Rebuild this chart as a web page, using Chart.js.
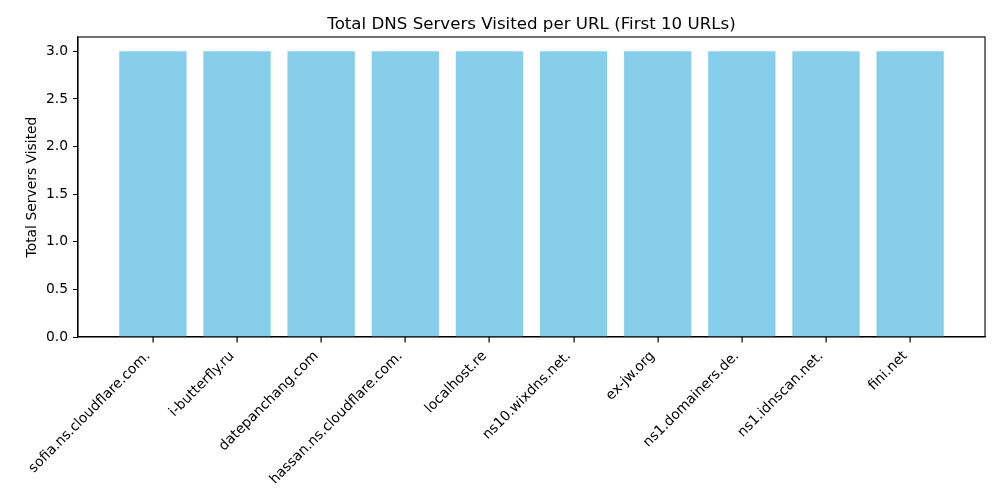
<!DOCTYPE html>
<html>
<head>
<meta charset="utf-8">
<script src="https://cdn.jsdelivr.net/npm/chart.js@4.4.0/dist/chart.umd.min.js"></script>
<style>
html,body{margin:0;padding:0;background:#fff;}
#wrap{width:1000px;height:500px;}
</style>
</head>
<body>
<div id="wrap"><canvas id="c" width="1000" height="500"></canvas></div>
<script>
const urls = ["sofia.ns.cloudflare.com.", "i-butterfly.ru", "datepanchang.com", "hassan.ns.cloudflare.com.", "localhost.re", "ns10.wixdns.net.", "ex-jw.org", "ns1.domainers.de.", "ns1.idnscan.net.", "fini.net"];
const totalServers = [3, 3, 3, 3, 3, 3, 3, 3, 3, 3];
const yTicks = [0, 0.5, 1.0, 1.5, 2.0, 2.5, 3.0];
const chartTitle = 'Total DNS Servers Visited per URL (First 10 URLs)';

const FONT = "'DejaVu Sans', sans-serif";
const TICK_FONT = 13.89;

const decor = {
  id: 'decor',
  afterDraw(chart) {
    const {ctx, chartArea: a} = chart;
    const xs = chart.scales.x;
    ctx.save();
    // frame (spines)
    ctx.strokeStyle = '#000';
    ctx.lineWidth = 1.1;
    ctx.strokeRect(a.left, a.top, a.right - a.left, a.bottom - a.top);
    // title centred over the axes
    ctx.fillStyle = '#000';
    ctx.font = "16.67px " + FONT;
    ctx.textAlign = 'center';
    ctx.textBaseline = 'alphabetic';
    ctx.fillText(chartTitle, (a.left + a.right) / 2, 29);
    // x tick marks
    urls.forEach((u, i) => {
      const px = Math.round(xs.getPixelForValue(i));
      ctx.fillRect(px - 0.5, a.bottom, 1.2, 5.5);
    });
    // rotated labels (matplotlib style: rotation 45, ha right)
    ctx.font = TICK_FONT + "px " + FONT;
    ctx.textAlign = 'right';
    ctx.textBaseline = 'alphabetic';
    const c = Math.SQRT1_2;
    const asc = 0.76 * TICK_FONT, desc = 0.24 * TICK_FONT;
    urls.forEach((u, i) => {
      const px = xs.getPixelForValue(i);
      ctx.save();
      ctx.translate(px - c * (asc + desc), a.bottom + 12);
      ctx.rotate(-Math.PI / 4);
      ctx.fillText(u, 0, asc);
      ctx.restore();
    });
    ctx.restore();
  }
};

new Chart(document.getElementById('c'), {
  type: 'bar',
  data: {
    datasets: [{
      data: urls.map((u, i) => ({x: i, y: totalServers[i]})),
      backgroundColor: '#87CEEB',
      borderWidth: 0,
      barPercentage: 0.8,
      categoryPercentage: 1.0
    }]
  },
  plugins: [decor],
  options: {
    responsive: false,
    animation: false,
    devicePixelRatio: 1,
    layout: {padding: {left: 0, right: 15, top: 37, bottom: 0}},
    plugins: {
      legend: {display: false},
      tooltip: {enabled: false},
      title: {display: false}
    },
    scales: {
      x: {
        type: 'linear',
        min: -0.89,
        max: 9.89,
        offset: false,
        grid: {display: false},
        border: {display: true, color: '#000', width: 1.1},
        ticks: {display: false},
        afterBuildTicks: (s) => { s.ticks = urls.map((u, i) => ({value: i})); },
        afterFit: (s) => { s.height = 163; }
      },
      y: {
        min: 0,
        max: 3.15,
        grid: {drawOnChartArea: false, drawTicks: true, tickLength: 5, tickColor: '#000'},
        border: {display: true, color: '#000', width: 1.1},
        ticks: {
          color: '#000',
          padding: 5,
          font: {family: FONT, size: TICK_FONT},
          callback: (v) => Number(v).toFixed(1)
        },
        afterBuildTicks: (s) => { s.ticks = yTicks.map(v => ({value: v})); },
        title: {
          display: true,
          text: 'Total Servers Visited',
          color: '#000',
          font: {family: FONT, size: TICK_FONT},
          padding: {top: 24, bottom: 0}
        },
        afterFit: (s) => { s.width = 78; }
      }
    }
  }
});
</script>
</body>
</html>
